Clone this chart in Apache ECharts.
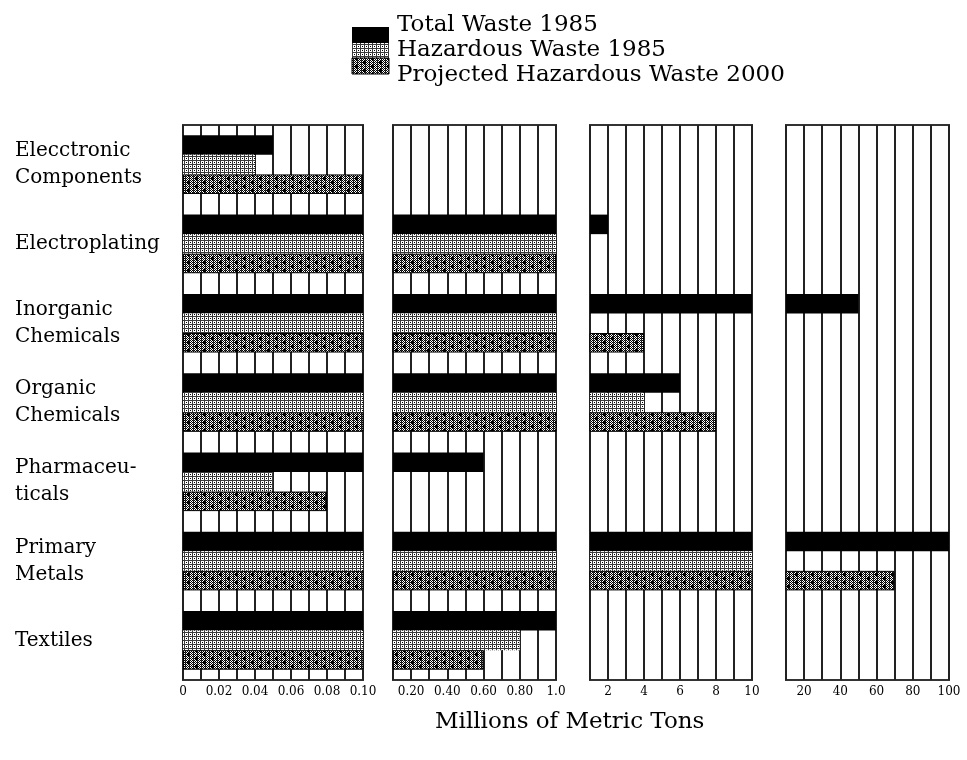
<!DOCTYPE html>
<html><head><meta charset="utf-8">
<script src="https://cdn.jsdelivr.net/npm/echarts@6/dist/echarts.min.js"></script>
<style>html,body{margin:0;padding:0;background:#fff}#c{width:967px;height:760px}</style>
</head><body><div id="c"></div>
<script>
// ---- data ----
const categories = ['Elecctronic\nComponents','Electroplating','Inorganic\nChemicals','Organic\nChemicals','Pharmaceu-\nticals','Primary\nMetals','Textiles'];
const seriesNames = ['Total Waste 1985','Hazardous Waste 1985','Projected Hazardous Waste 2000'];
const totalWaste1985 = [0.05, 2, 50, 6, 0.6, 100, 1.0];
const hazardousWaste1985 = [0.04, 1.0, 1.0, 4, 0.05, 10, 0.8];
const projectedHazardous2000 = [0.1, 1.0, 4, 8, 0.08, 70, 0.6];
const panelMin = [0, 0.1, 1, 10];
const panelMax = [0.1, 1.0, 10, 100];
const panelStep = [0.01, 0.1, 1, 10];
const tickValues = [[0,0.02,0.04,0.06,0.08,0.1],[0.2,0.4,0.6,0.8,1.0],[2,4,6,8,10],[20,40,60,80,100]];
const tickLabels = [['0','0.02','0.04','0.06','0.08','0.10'],['0.20','0.40','0.60','0.80','1.0'],['2','4','6','8','10'],['20','40','60','80','100']];
const axisTitle = 'Millions of Metric Tons';

// ---- patterns ----
function makeCanvas(w,h,draw){const c=document.createElement('canvas');c.width=w;c.height=h;const g=c.getContext('2d');g.fillStyle='#fff';g.fillRect(0,0,w,h);draw(g);return c;}
const dotted = makeCanvas(4,4,g=>{g.fillStyle='#3a3a3a';g.fillRect(0,0,4,1);g.fillRect(0,0,1,4);g.fillStyle='#000';g.fillRect(2,2,1,1);});
const cross = makeCanvas(16,8,g=>{
  g.fillStyle='#000';
  for(let y=0;y<8;y++)for(let x=0;x<16;x++)if((x+y)%2===0)g.fillRect(x,y,1,1);
  g.fillStyle='#333';
  for(let y=0;y<8;y+=2)for(let x=1;x<16;x+=4)g.fillRect(x,y,1,1);
  g.fillStyle='#000';
  const plus=(cx,cy)=>{g.fillRect(cx-1,cy,3,1);g.fillRect(cx,cy-1,1,3);};
  plus(4,2);plus(12,6);
});
const dottedFill = {image:dotted, repeat:'repeat'};
const crossFill = {image:cross, repeat:'repeat'};

const FONT = 'DejaVu Serif';
const panelLefts = [183, 393, 590, 786];
const panelWidths = [180, 163, 162, 163];
const gridTop = 125, gridHeight = 555;

const dataSets = [totalWaste1985, hazardousWaste1985, projectedHazardous2000];
const itemStyles = [
  {color:'#000'},
  {color:dottedFill},
  {color:crossFill, borderColor:'#000', borderWidth:1}
];

const grids=[], xAxes=[], yAxes=[], seriesList=[];
for(let p=0;p<4;p++){
  grids.push({left:panelLefts[p], top:gridTop, width:panelWidths[p], height:gridHeight, show:true, backgroundColor:'#fff', borderColor:'#333', borderWidth:2, containLabel:false});
  xAxes.push({type:'value', gridIndex:p, min:panelMin[p], max:panelMax[p], interval:panelStep[p],
    axisLine:{show:false}, axisTick:{show:false},
    splitLine:{show:true, lineStyle:{color:'#222', width:2}},
    axisLabel:{show:true, interval:0, showMinLabel:true, showMaxLabel:true, margin:6, color:'#000', fontFamily:FONT, fontSize:12,
      formatter:(v)=>{const i=tickValues[p].findIndex(t=>Math.abs(t-v)<1e-9);return i>=0?tickLabels[p][i]:'';}}
  });
  yAxes.push({type:'category', gridIndex:p, data:categories, inverse:true,
    axisLine:{show:false}, axisTick:{show:false}, splitLine:{show:false},
    axisLabel:{show:p===0, align:'left', margin:168, color:'#000', fontFamily:FONT, fontSize:20, lineHeight:27}
  });
  for(let s=0;s<3;s++){
    seriesList.push({type:'bar', name:seriesNames[s], xAxisIndex:p, yAxisIndex:p, data:dataSets[s],
      barGap:'0%', barCategoryGap:'26%', clip:true, silent:true, itemStyle:itemStyles[s], emphasis:{disabled:true}});
  }
}

const chart = echarts.init(document.getElementById('c'), null, {renderer:'canvas'});
chart.setOption({
  backgroundColor:'#fff',
  animation:false,
  title:{text:axisTitle, left:430, top:706, textStyle:{fontFamily:FONT, fontSize:23, fontWeight:'normal', color:'#000'}},
  legend:{orient:'vertical', left:387, top:8, icon:'none', itemWidth:0, itemHeight:25, itemGap:0, selectedMode:false,
    data:seriesNames, textStyle:{fontFamily:FONT, fontSize:23, color:'#000', lineHeight:25}},
  graphic:[
    {type:'rect', shape:{x:352,y:27,width:37,height:16}, style:{fill:'#000'}},
    {type:'rect', shape:{x:352,y:43,width:37,height:15}, style:{fill:dottedFill}},
    {type:'rect', shape:{x:352,y:58,width:37,height:16}, style:{fill:crossFill, stroke:'#000', lineWidth:1}}
  ],
  grid:grids, xAxis:xAxes, yAxis:yAxes, series:seriesList
});
</script></body></html>
